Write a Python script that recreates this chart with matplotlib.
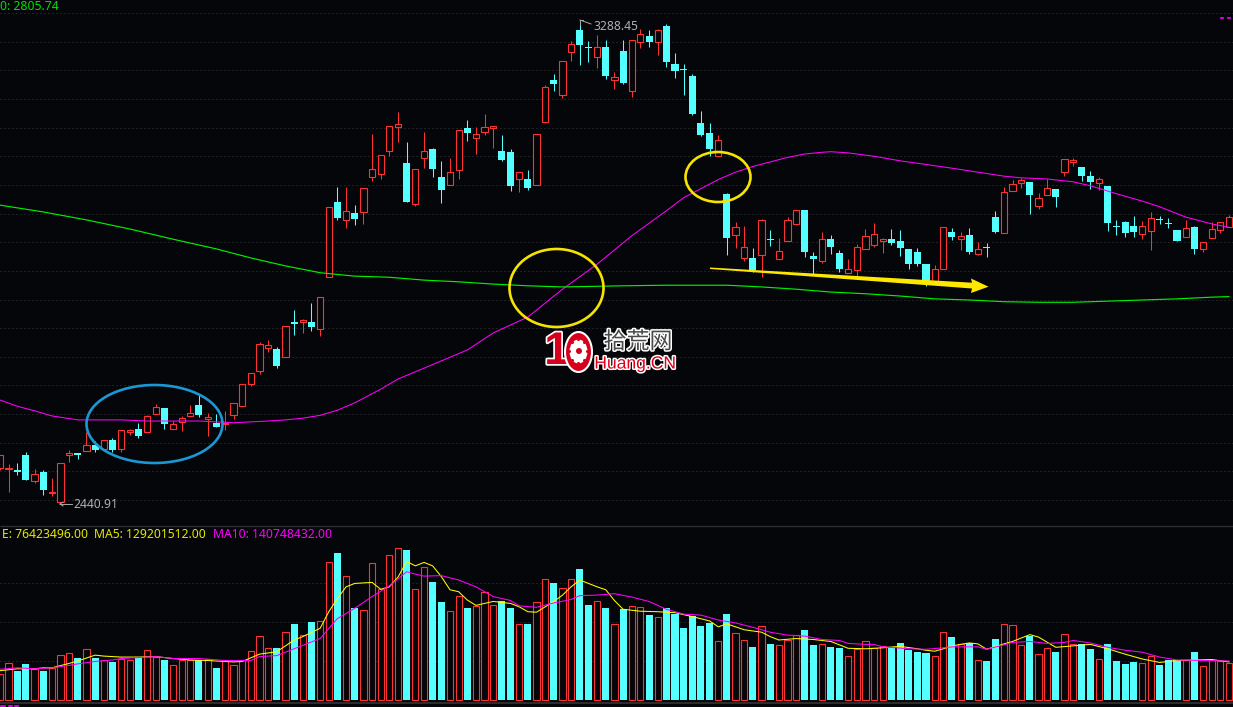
import numpy as np
import matplotlib
matplotlib.use('Agg')
import matplotlib.pyplot as plt
import matplotlib.patheffects as pe
from matplotlib.patches import Ellipse, Polygon

opens = [2501,2500,2498,2524,2479,2494,2457,2442,2524,2527,
         2532,2542,2535,2551,2534,2565,2570,2564,2596,2607,
         2570,2582,2592,2613,2588,2581,2579,2594,2610,2650,
         2672,2713,2711,2697,2759,2759,2758,2746,2837,2969,
         2938,2950,2952,3014,3019,3060,3102,3038,2966,3047,
         3063,3013,3000,3026,3100,3083,3093,3100,3059,3057,
         3010,3010,3000,3111,3184,3158,3234,3272,3242,3225,
         3242,3185,3235,3164,3251,3261,3251,3279,3212,3204,
         3191,3109,3091,3051,2984,2912,2871,2871,2877,2904,
         2870,2901,2931,2955,2874,2866,2904,2880,2845,2849,
         2887,2893,2901,2904,2901,2887,2881,2860,2830,2852,
         2917,2904,2911,2878,2890,2943,2915,2989,3003,3005,
         2963,2981,2992,3023,3040,3031,3015,3003,2998,2927,
         2934,2927,2913,2919,2940,2933,2920,2908,2925,2886,
         2907,2921,2925]
closes = [2524,2501,2494,2480,2490,2463,2459,2511,2528,2524,
          2541,2533,2550,2533,2568,2568,2558,2592,2608,2578,
          2578,2589,2599,2595,2591,2574,2581,2615,2650,2669,
          2719,2717,2681,2752,2755,2761,2750,2802,2960,2941,
          2953,2940,2994,3027,3053,3103,3107,2969,3027,3060,
          3028,2991,3022,3096,3091,3090,3101,3104,3043,2998,
          3022,2994,3090,3171,3177,3217,3247,3246,3240,3242,
          3191,3189,3179,3254,3265,3251,3272,3216,3200,3202,
          3124,3087,3063,3078,2906,2925,2891,2850,2937,2903,
          2883,2937,2955,2881,2869,2904,2890,2852,2851,2891,
          2909,2913,2904,2897,2889,2860,2860,2830,2851,2925,
          2908,2909,2881,2886,2889,2917,2987,3001,3008,2982,
          2976,2995,2978,3045,3043,3015,3005,3010,2933,2925,
          2915,2917,2928,2941,2937,2931,2901,2923,2887,2899,
          2922,2935,2943]
highs = [2524,2508,2510,2530,2500,2498,2484,2511,2533,2528,
         2565,2549,2550,2554,2568,2570,2580,2595,2614,2607,
         2584,2593,2612,2629,2598,2596,2602,2615,2650,2669,
         2723,2727,2715,2752,2779,2764,2791,2802,2960,2996,
         2996,2964,2994,3089,3053,3103,3128,3075,3027,3093,
         3065,3042,3047,3096,3114,3101,3124,3104,3087,3063,
         3022,3026,3090,3175,3195,3217,3252,3288.45,3253,3263,
         3255,3198,3255,3254,3274,3272,3274,3282,3232,3212,
         3195,3130,3109,3087,2985,2934,2927,2889,2940,2920,
         2906,2943,2955,2955,2881,2917,2911,2885,2869,2896,
         2922,2933,2906,2922,2920,2887,2889,2860,2859,2925,
         2924,2917,2924,2899,2897,2954,2996,3008,3012,3005,
         2985,3010,2992,3045,3047,3031,3024,3013,2998,2938,
         2936,2945,2936,2952,2945,2941,2920,2938,2927,2899,
         2934,2935,2947]
lows = [2498,2459,2489,2480,2475,2454,2452,2440.91,2512,2518,
        2532,2530,2535,2530,2530,2560,2555,2564,2596,2570,
        2570,2567,2592,2591,2558,2574,2569,2588,2610,2646,
        2666,2705,2678,2697,2735,2739,2742,2734,2837,2938,
        2924,2929,2931,3006,3010,3051,3075,2969,2963,3029,
        3013,2968,3000,3010,3077,3054,3087,3065,3042,2989,
        2987,2991,3000,3111,3165,3153,3218,3211,3216,3205,
        3186,3168,3177,3154,3241,3242,3228,3207,3188,3158,
        3123,3086,3050,3051,2876,2889,2866,2846,2838,2892,
        2870,2901,2929,2873,2841,2862,2878,2846,2845,2837,
        2887,2890,2880,2894,2874,2852,2857,2822,2830,2852,
        2903,2885,2878,2876,2873,2915,2915,2989,2994,2948,
        2957,2981,2961,3015,3033,3006,2992,2991,2918,2911,
        2908,2908,2904,2885,2931,2924,2901,2908,2878,2881,
        2907,2915,2925]
# volume in millions
volumes = [53,75,59,74,64,59,65,92,96,86,
           104,86,81,78,85,82,88,102,88,82,
           71,83,82,81,85,66,82,71,83,100,
           131,106,107,139,156,133,160,161,282,301,
           254,189,184,280,227,297,311,308,227,272,
           242,201,182,213,189,192,221,194,202,189,
           155,156,200,249,240,229,249,269,195,202,
           189,155,187,192,190,174,170,189,176,148,
           172,152,158,120,176,137,124,109,151,115,
           112,124,133,144,113,114,109,107,90,104,
           120,106,111,109,117,103,98,96,90,139,
           129,114,117,83,80,125,155,153,112,131,
           94,106,98,135,114,115,105,85,115,80,
           74,78,75,90,72,82,83,81,98,69,
           82,79,76]

ma60_idx = [0,2,4,6,9,14,17,23,27,31,33,35,37,39,41,44,46,49,54,57,61,65,69,73,77,79,83,85,87,89,91,93,95,96,
            98,101,104,110,113,116,118,121,124,126,129,132,134,137,140,142]
ma60 = [2621,2610,2602,2593,2586,2586,2584,2584,2581,2584,2586,2589,2594,2603,2616,2640,2658,2677,2709,2739,
        2767,2816,2860,2910,2954,2977,3009,3022,3032,3040,3048,3054,3057,3058,
        3056,3050,3042,3029,3022,3015,3012,3010,3005,2998,2984,2971,2961,2943,2931,2925]
ma250_idx = [0,5,10,15,20,25,29,33,37,41,45,49,53,57,61,65,72,77,84,88,92,96,100,104,108,112,
             116,120,124,128,132,136,140,142]
ma250 = [2964,2952,2938,2922,2904,2887,2871,2857,2845,2839,2837,2832,2829,2825,2822,2820,2822,
         2823,2823,2820,2816,2811,2808,2804,2799,2797,2794,2793,2793,2795,2797,2799,2802,2803]

vol_ma5_idx = [0,2,4,5,6,8,9,11,12,14,16,18,20,22,24,27,28,30,32,34,35,37,38,39,40,41,43,44,45,46,47,
               48,49,50,51,52,53,54,55,56,57,58,59,60,61,62,63,64,65,66,67,68,69,70,71,72,74,76,78,
               80,82,83,84,86,88,89,90,92,94,96,98,100,102,104,106,107,108,109,110,112,113,114,116,
               117,119,120,122,124,126,128,130,132,134,136,138,140,142]
vol_ma5 = [60,64,64,66,66,75,80,92,90,88,88,89,85,82,81,78,79,94,99,123,130,147,181,208,232,239,241,
           227,232,252,284,275,282,275,253,226,222,205,194,198,202,200,198,191,181,180,191,202,215,
           232,246,239,232,226,204,186,182,181,179,171,162,150,156,144,139,130,123,126,124,120,106,
           105,107,110,105,102,100,105,111,117,115,104,115,120,134,129,108,111,114,105,94,84,77,81,
           82,83,78]
vol_ma10_idx = [0,2,4,6,8,9,11,13,14,16,18,20,23,26,29,30,32,34,37,39,41,43,45,47,48,49,51,53,55,56,
                57,59,60,62,64,66,67,69,71,73,75,77,79,81,83,85,87,89,91,93,95,96,97,98,100,101,102,
                105,107,109,110,113,114,116,117,119,121,123,124,126,128,130,132,134,136,142]
vol_ma10 = [63,66,64,66,71,74,79,82,85,87,89,85,85,81,81,89,91,105,126,167,188,212,234,263,258,254,
            255,246,232,222,212,204,193,190,199,206,214,215,218,211,202,186,176,174,164,158,149,139,
            133,131,124,123,122,116,114,114,109,105,104,107,109,109,104,113,118,120,116,118,122,117,
            108,102,98,88,82,80]

price_grid = np.arange(2445, 3310, 50.4)
vol_grid = [80, 160, 240]

BG = '#05060a'
RED = '#ff3232'
CYAN = '#54ffff'
MAGENTA = '#ff00ff'
GREEN = '#00ee00'
YELLOW = '#ffff00'

plt.rcParams['font.family'] = ['Noto Sans', 'DejaVu Sans']

W, H = 1233, 707
fig = plt.figure(figsize=(W / 100, H / 100), dpi=100, facecolor=BG)

def px_axes(top, bottom):
    return fig.add_axes([0, 1 - bottom / H, 1, (bottom - top) / H], facecolor=BG)

ax = px_axes(0, 526)
axv = px_axes(526, 703)

opens = np.array(opens, float)
closes = np.array(closes, float)
highs = np.array(highs, float)
lows = np.array(lows, float)
volumes = np.array(volumes, float)
x = np.arange(len(opens))
up = closes >= opens
top = np.maximum(opens, closes)
bot = np.minimum(opens, closes)

for a in (ax, axv):
    a.set_xlim(0.012, 142.47)
    for s in a.spines.values():
        s.set_visible(False)
    a.set_xticks([])
    a.set_yticks([])

ax.set_ylim(2399.24, 3325)
axv.set_ylim(-6.15, 356.7)

ax.hlines(price_grid, 0, 143, color='#3a3a3a', linestyles=[(0, (1, 3))], zorder=1, lw=0.72)
axv.hlines(vol_grid, 0, 143, color='#3a3a3a', linestyles=[(0, (1, 3))], zorder=1, lw=0.72)

# wicks go round the body, candles are hollow when up
ax.vlines(x[up], top[up], highs[up], color=RED, zorder=2, lw=0.75)
ax.vlines(x[up], lows[up], bot[up], color=RED, zorder=2, lw=0.75)
ax.vlines(x[~up], lows[~up], highs[~up], color=CYAN, zorder=2, lw=0.75)
ax.bar(x[up], (top - bot)[up], bottom=bot[up], width=0.72, facecolor=BG, edgecolor=RED, lw=0.8, zorder=3)
ax.bar(x[~up], (top - bot)[~up], bottom=bot[~up], width=0.81, color=CYAN, lw=0, zorder=3)

axv.bar(x[up], volumes[up], width=0.72, facecolor=BG, edgecolor=RED, lw=0.8, zorder=2)
axv.bar(x[~up], volumes[~up], width=0.81, color=CYAN, lw=0, zorder=2)

ax.plot(ma60_idx, ma60, color=MAGENTA, lw=0.75, zorder=4)
ax.plot(ma250_idx, ma250, color=GREEN, lw=0.85, zorder=4)
axv.plot(vol_ma5_idx, vol_ma5, color=YELLOW, lw=0.75, zorder=4)
axv.plot(vol_ma10_idx, vol_ma10, color=MAGENTA, lw=0.75, zorder=4)

# overlay in pixel coordinates for the hand drawn marks and labels
ov = fig.add_axes([0, 0, 1, 1], facecolor='none')
ov.set_xlim(0, W)
ov.set_ylim(H, 0)
ov.axis('off')

ov.hlines(526, 0, W, color='#2e2e2e', lw=1.0)
ov.hlines(703, 0, W, color='#2e2e2e', lw=1.4)

ov.text(0, 6, '0: 2805.74', color='#00e000', fontsize=8.8, va='center')
ov.plot([1221, 1222.5], [18, 18], color=MAGENTA, lw=1.2)
ov.plot([1228, 1229.5], [18, 18], color=MAGENTA, lw=1.2)
ov.plot([1, 5], [706, 706], color=MAGENTA, lw=1.2)
ov.plot([9, 12], [706, 706], color=MAGENTA, lw=1.2)
ov.plot([15, 18], [706, 706], color=MAGENTA, lw=1.2)

ov.text(593, 27, '3288.45', color='#b0b0b0', fontsize=8.7, va='center')
ov.plot([580, 580], [20, 25], color='#a8a8a8', lw=0.7)
ov.plot([580, 591], [20, 24], color='#a8a8a8', lw=0.7)
ov.plot([580, 583], [20, 20], color='#a8a8a8', lw=0.7)
ov.text(73, 504, '2440.91', color='#b0b0b0', fontsize=8.7, va='center')
ov.plot([60, 72], [504, 504], color='#a8a8a8', lw=0.7)
ov.plot([60, 63], [504, 502], color='#a8a8a8', lw=0.7)
ov.plot([60, 63], [504, 506], color='#a8a8a8', lw=0.7)

ov.text(2, 534, 'E: 76423496.00', color='#e6e600', fontsize=8.75, va='center')
ov.text(94, 534, 'MA5: 129201512.00', color='#e6e600', fontsize=8.75, va='center')
ov.text(213, 534, 'MA10: 140748432.00', color=MAGENTA, fontsize=8.75, va='center')

ov.add_patch(Ellipse((154.5, 424), 136, 78, fill=False, ec='#1b97d4', lw=1.9, zorder=6))
ov.add_patch(Ellipse((556.5, 288), 94, 78, fill=False, ec='#f5e400', lw=1.9, zorder=6))
ov.add_patch(Ellipse((718, 177), 65, 50, fill=False, ec='#f5e400', lw=1.9, zorder=6))

ov.add_patch(Polygon([(710, 267.5), (972, 282.7), (971, 278.5), (988.5, 286.7), (971, 293),
                      (972, 288.5), (710, 269)], closed=True, fc='#ffe800', ec='none', zorder=6))

# watermark
RED_W = '#d6001c'
ov.text(557, 352, '1', color=RED_W, fontsize=33, fontweight='bold', ha='center', va='center',
        family='Liberation Sans', path_effects=[pe.withStroke(linewidth=2.5, foreground='white')], zorder=7)
ov.add_patch(Ellipse((578.5, 352), 27, 40, fc=RED_W, ec='white', lw=1.5, zorder=7))
ov.add_patch(Ellipse((578.5, 351.5), 18, 24, fc='white', ec='none', zorder=8))
ov.add_patch(Ellipse((579, 351), 6, 6, fc=RED_W, ec='none', zorder=9))
# gear notches
for dx, dy in [(9, 0), (-9, 0), (6, -9), (-6, -9), (6, 9), (-6, 9), (0, -12), (0, 12)]:
    ov.add_patch(Ellipse((578.5 + dx, 351.5 + dy), 3, 3, fc=RED_W, ec='none', zorder=9))
ov.text(638, 342, '拾荒网', color='#4a4a4a', fontsize=16.5, family=['Noto Sans CJK SC', 'DejaVu Sans'],
        ha='center', va='center', path_effects=[pe.withStroke(linewidth=2.2, foreground='white')], zorder=7)
ov.text(635, 364, 'Huang.CN', color='#e0001c', fontsize=12.6, family='Liberation Sans',
        ha='center', va='center', path_effects=[pe.withStroke(linewidth=2.2, foreground='white')], zorder=7)

fig.savefig('out.png', dpi=100, facecolor=BG)
